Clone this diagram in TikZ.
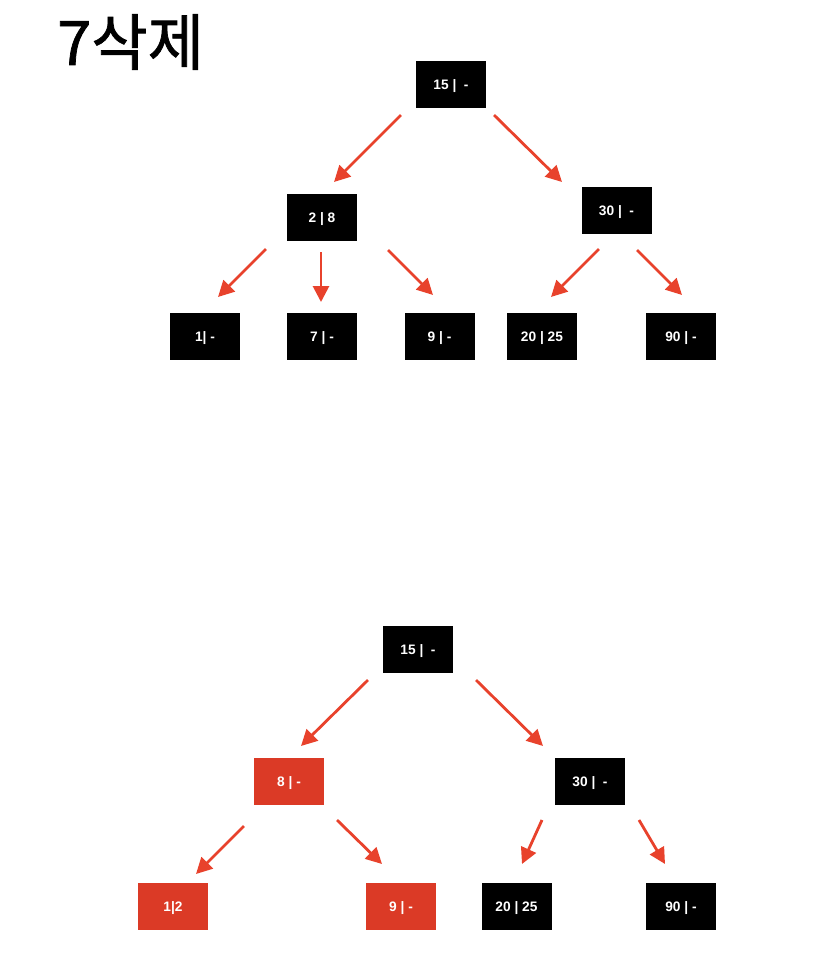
\documentclass[tikz,border=0pt]{standalone}
\usepackage{fontspec}
\setmainfont{Liberation Sans}
\newfontfamily\krfont[FakeBold=1.2]{Noto Sans CJK KR}
\usetikzlibrary{arrows.meta}
\definecolor{nodered}{RGB}{219,58,38}
\definecolor{arrred}{RGB}{232,66,44}
\tikzset{
  keybox/.style={fill=black, text=white, minimum width=52.5pt, minimum height=35.25pt, inner sep=0pt, text height=7.4pt, text depth=0pt, font=\bfseries\fontsize{10.3}{12}\selectfont},
  redbox/.style={keybox, fill=nodered},
  arr/.style={draw=arrred, line width=2.1pt, -{Triangle[length=12pt,width=12pt]}, fill=arrred}
}
\begin{document}
\begin{tikzpicture}[x=0.75pt,y=-0.75pt]
\useasboundingbox (0,0) rectangle (834,972);
\node[font=\krfont\fontsize{46}{50}\selectfont, anchor=west, inner sep=0pt] (title) at (57,42) {7삭제};
% top tree
\node[keybox] (t15) at (451,84.5) {15 |\ \ -};
\node[keybox] (t28) at (322,217.5) {2 | 8};
\node[keybox] (t30) at (616.5,210.5) {30 |\ \ -};
\node[keybox] (t1) at (205,336.5) {1| -};
\node[keybox] (t7) at (322,336.5) {7 | -};
\node[keybox] (t9) at (439.5,336.5) {9 | -};
\node[keybox] (t2025) at (542,336.5) {20 | 25};
\node[keybox] (t90) at (681,336.5) {90 | -};
\coordinate (a1s) at (401,115); \coordinate (a1e) at (334,182);
\coordinate (a2s) at (494,115); \coordinate (a2e) at (562,182);
\coordinate (a3s) at (266,249); \coordinate (a3e) at (218,297);
\coordinate (a4s) at (321,252); \coordinate (a4e) at (321,302);
\coordinate (a5s) at (388,250); \coordinate (a5e) at (433,295);
\coordinate (a6s) at (599,249); \coordinate (a6e) at (551,297);
\coordinate (a7s) at (637,250); \coordinate (a7e) at (682,295);
\draw[arr] (a1s) -- (a1e);
\draw[arr] (a2s) -- (a2e);
\draw[arr] (a3s) -- (a3e);
\draw[arr] (a4s) -- (a4e);
\draw[arr] (a5s) -- (a5e);
\draw[arr] (a6s) -- (a6e);
\draw[arr] (a7s) -- (a7e);
% bottom tree
\node[keybox] (b15) at (418,649.5) {15 |\ \ -};
\node[redbox] (b8) at (289,781.5) {8 | -};
\node[keybox] (b30) at (590,781.5) {30 |\ \ -};
\node[redbox] (b12) at (173,906.5) {1|2};
\node[redbox] (b9) at (401,906.5) {9 | -};
\node[keybox] (b2025) at (516.5,906.5) {20 | 25};
\node[keybox] (b90) at (681,906.5) {90 | -};
\coordinate (c1s) at (368,680); \coordinate (c1e) at (301,746);
\coordinate (c2s) at (476,680); \coordinate (c2e) at (543,746);
\coordinate (c3s) at (244,826); \coordinate (c3e) at (196,874);
\coordinate (c4s) at (337,820); \coordinate (c4e) at (382,864);
\coordinate (c5s) at (542,820); \coordinate (c5e) at (522,864);
\coordinate (c6s) at (639,820); \coordinate (c6e) at (665,864);
\draw[arr] (c1s) -- (c1e);
\draw[arr] (c2s) -- (c2e);
\draw[arr] (c3s) -- (c3e);
\draw[arr] (c4s) -- (c4e);
\draw[arr] (c5s) -- (c5e);
\draw[arr] (c6s) -- (c6e);
\end{tikzpicture}
\end{document}
